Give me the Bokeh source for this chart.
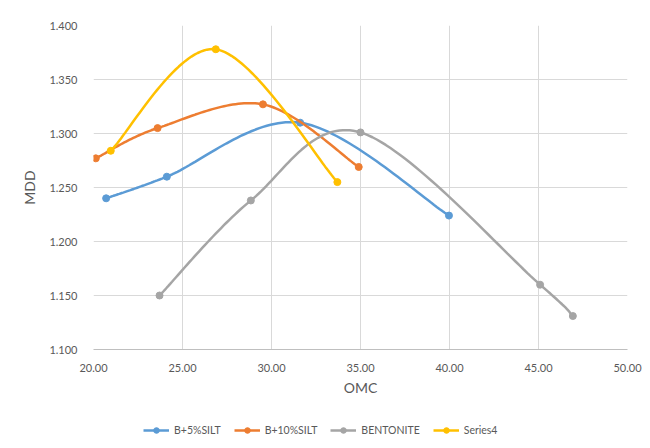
import numpy as np
from bokeh.plotting import figure
from bokeh.layouts import column
from bokeh.models import Range1d, FixedTicker, NumeralTickFormatter, Legend, LegendItem
from bokeh.embed import file_html
from bokeh.resources import INLINE

# Compaction data: optimum moisture content (OMC, %) vs maximum dry density (MDD)
series_names = ["B+5%SILT", "B+10%SILT", "BENTONITE", "Series4"]

b5_omc = [20.71, 24.12, 31.61, 39.97]
b5_mdd = [1.240, 1.260, 1.310, 1.224]

b10_omc = [20.13, 23.60, 29.52, 34.90]
b10_mdd = [1.277, 1.305, 1.327, 1.269]

bent_omc = [23.71, 28.84, 35.00, 45.09, 46.93]
bent_mdd = [1.150, 1.238, 1.301, 1.160, 1.131]

s4_omc = [20.97, 26.87, 33.70]
s4_mdd = [1.284, 1.378, 1.255]

colors = ["#5B9BD5", "#ED7D31", "#A5A5A5", "#FFC000"]

x_ticks = [20, 25, 30, 35, 40, 45, 50]
y_ticks = [1.10, 1.15, 1.20, 1.25, 1.30, 1.35, 1.40]

FONT = "Lato"
TEXT_COLOR = "#595959"
GRID_COLOR = "#D9D9D9"
LINE_W = 2.5
MARKER = 7


def smooth(xs, ys, steps=40):
    """Catmull-Rom style cubic Bezier smoothing through every point."""
    P = np.column_stack([xs, ys]).astype(float)
    n = len(P)
    out = [P[0]]
    t = np.linspace(0, 1, steps)[1:, None]
    for i in range(n - 1):
        p0 = P[max(i - 1, 0)]
        p1 = P[i]
        p2 = P[i + 1]
        p3 = P[min(i + 2, n - 1)]
        c1 = p1 + (p2 - p0) / 6.0
        c2 = p2 - (p3 - p1) / 6.0
        seg = ((1 - t) ** 3) * p1 + 3 * ((1 - t) ** 2) * t * c1 \
            + 3 * (1 - t) * t ** 2 * c2 + t ** 3 * p2
        out.extend(seg)
    out = np.array(out)
    return out[:, 0], out[:, 1]


data = [(b5_omc, b5_mdd), (b10_omc, b10_mdd), (bent_omc, bent_mdd), (s4_omc, s4_mdd)]

# ---- main chart ----
chart = figure(width=650, height=410, output_backend="svg", toolbar_location=None,
               x_range=Range1d(20, 50), y_range=Range1d(1.1, 1.4),
               min_border_left=93, min_border_right=23, min_border_top=25,
               min_border_bottom=61)
chart.outline_line_color = None
chart.background_fill_color = "white"
chart.border_fill_color = "white"

chart.xgrid.ticker = FixedTicker(ticks=x_ticks)
chart.ygrid.ticker = FixedTicker(ticks=y_ticks)
for g in (chart.xgrid, chart.ygrid):
    g.grid_line_color = GRID_COLOR
    g.grid_line_width = 1

chart.xaxis.ticker = FixedTicker(ticks=x_ticks)
chart.yaxis.ticker = FixedTicker(ticks=y_ticks)
chart.xaxis.formatter = NumeralTickFormatter(format="0.00")
chart.yaxis.formatter = NumeralTickFormatter(format="0.000")
chart.xaxis.axis_label = "OMC"
chart.yaxis.axis_label = "MDD"
for ax in (chart.xaxis, chart.yaxis):
    ax.major_tick_line_color = None
    ax.minor_tick_line_color = None
    ax.major_label_text_font = FONT
    ax.major_label_text_font_size = "11px"
    ax.major_label_text_color = TEXT_COLOR
    ax.axis_label_text_font = FONT
    ax.axis_label_text_font_size = "14px"
    ax.axis_label_text_font_style = "normal"
    ax.axis_label_text_color = TEXT_COLOR
chart.xaxis.axis_line_color = "#BFBFBF"
chart.yaxis.axis_line_color = None
chart.xaxis.major_label_standoff = 8
chart.yaxis.major_label_standoff = 10
chart.xaxis.axis_label_standoff = 4
chart.yaxis.axis_label_standoff = 8

for (xs, ys), c in zip(data, colors):
    sx, sy = smooth(xs, ys)
    chart.line(sx, sy, line_color=c, line_width=LINE_W)
    chart.scatter(xs, ys, size=MARKER, fill_color=c, line_color=c)

# ---- legend strip (its frame lines up with the chart frame above) ----
key = figure(width=650, height=38, output_backend="svg", toolbar_location=None,
             x_range=Range1d(100, 101), y_range=Range1d(100, 101),
             min_border=0)
key.axis.visible = False
key.grid.visible = False
key.outline_line_color = None
key.background_fill_color = "white"
key.border_fill_color = "white"

items = []
for name, (xs, ys), c in zip(series_names, data, colors):
    ln = key.line(xs, ys, line_color=c, line_width=LINE_W)
    pts = key.scatter(xs, ys, size=MARKER, fill_color=c, line_color=c)
    items.append(LegendItem(label=name, renderers=[ln, pts]))

legend = Legend(items=items, orientation="horizontal", location=(50, 11),
                padding=0, margin=0, spacing=13, border_line_color=None,
                background_fill_alpha=0, glyph_width=26, glyph_height=14,
                label_height=14, label_standoff=5,
                label_text_font=FONT, label_text_font_size="10.5px",
                label_text_color=TEXT_COLOR)
key.add_layout(legend, "center")

p = column(chart, key, spacing=0)

open("out.html", "w").write(file_html(p, INLINE))
